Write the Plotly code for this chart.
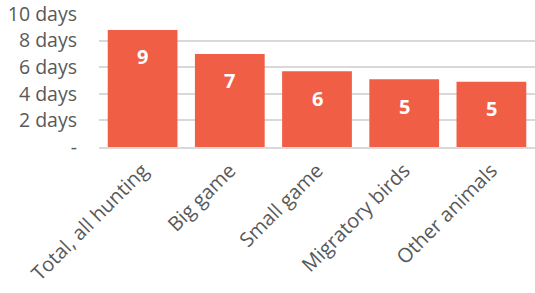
import plotly.graph_objects as go

categories = ["Total, all hunting", "Big game", "Small game", "Migratory birds", "Other animals"]
values = [8.8, 7.0, 5.7, 5.1, 4.9]
labels = [str(round(v)) for v in values]
tick_vals = [0, 2, 4, 6, 8, 10]
tick_text = ["-", "2 days", "4 days", "6 days", "8 days", "10 days"]

FONT = "Open Sans"
GREY = "#595959"

fig = go.Figure(go.Bar(x=categories, y=values, marker=dict(color="#F15E46", line=dict(width=0)),
                       hoverinfo="skip"))

for c, v, t in zip(categories, values, labels):
    fig.add_annotation(x=c, y=v, text=f"<b>{t}</b>", showarrow=False, yshift=-27,
                       font=dict(family=FONT, size=20, color="white"))

fig.update_layout(
    width=535, height=293,
    margin=dict(l=99, r=0, t=14, b=146),
    plot_bgcolor="white", paper_bgcolor="white",
    bargap=0.2, showlegend=False,
    font=dict(family=FONT, size=20, color=GREY),
)
fig.update_xaxes(tickangle=-45, showgrid=False, showline=True, linecolor="#d9d9d9", linewidth=2,
                 ticks="", automargin=False, ticklabelstandoff=2, ticklabeloverflow="allow",
                 tickfont=dict(family=FONT, size=20, color=GREY))
fig.update_yaxes(range=[0, 10], tickvals=tick_vals, ticktext=tick_text, showgrid=True,
                 gridcolor="#d9d9d9", gridwidth=2, zeroline=False, showline=False, ticks="",
                 ticklabelstandoff=21, automargin=False, ticklabeloverflow="allow",
                 tickfont=dict(family=FONT, size=19.5, color=GREY))

fig.write_html("out.html", config={"displayModeBar": False},
               post_script="document.body.style.margin='0px';document.body.style.overflow='hidden';")
